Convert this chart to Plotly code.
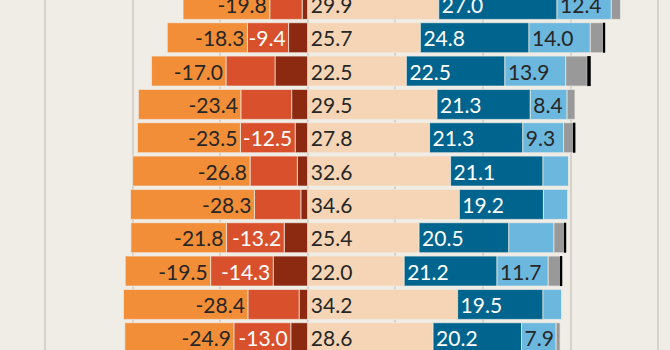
import plotly.graph_objects as go

# Row index (top row partially cropped in the reference)
rows = list(range(11))

# Left side (negative shares)
light_orange = [-19.8, -18.3, -17.0, -23.4, -23.5, -26.8, -28.3, -21.8, -19.5, -28.4, -24.9]
red = [-7.4, -9.4, -11.2, -11.6, -12.5, -10.8, -10.6, -13.2, -14.3, -11.7, -13.0]
dark_red = [-1.3, -4.4, -7.5, -3.7, -2.9, -2.4, -1.6, -5.4, -7.9, -2.0, -3.9]

# Right side (positive shares)
peach = [29.9, 25.7, 22.5, 29.5, 27.8, 32.6, 34.6, 25.4, 22.0, 34.2, 28.6]
dark_blue = [27.0, 24.8, 22.5, 21.3, 21.3, 21.1, 19.2, 20.5, 21.2, 19.5, 20.2]
light_blue = [12.4, 14.0, 13.9, 8.4, 9.3, 5.9, 5.6, 10.3, 11.7, 4.3, 7.9]
gray = [2.1, 3.0, 4.9, 1.8, 2.3, 0.0, 0.0, 2.4, 2.8, 0.0, 0.9]
black = [0.0, 0.4, 0.8, 0.0, 0.4, 0.0, 0.0, 0.4, 0.4, 0.0, 0.0]

# Which segments carry a printed label
red_labelled = [False, True, False, False, True, False, False, True, True, False, True]
light_blue_labelled = [True, True, True, True, True, False, False, False, True, False, True]

grid_ticks = [-60, -40, -20, 0, 20, 40, 60, 80]

BG = "#f0ede6"
FONT = "Lato"
DARK_TXT = "#262626"
FSIZE = 21


def labels(values, mask=None):
    out = []
    for i, v in enumerate(values):
        if mask is None or mask[i]:
            out.append(f"{v:.1f}")
        else:
            out.append("")
    return out


def seg(values, color, text=None, txtcolor=DARK_TXT, line=True):
    return go.Bar(
        y=rows,
        x=values,
        orientation="h",
        marker=dict(color=color,
                    line=dict(color="rgba(240,237,230,0.7)", width=1 if line else 0)),
        text=text,
        textposition="inside" if text is not None else "none",
        insidetextanchor="start",
        constraintext="none",
        textangle=0,
        textfont=dict(family=FONT, size=FSIZE, color=txtcolor),
        width=0.9,
        hoverinfo="skip",
        showlegend=False,
    )


fig = go.Figure()
# negative stack: innermost first
fig.add_trace(seg(dark_red, "#8b2a10"))
fig.add_trace(seg(red, "#d9512c", labels(red, red_labelled), "white"))
fig.add_trace(seg(light_orange, "#f28e38", labels(light_orange)))
# positive stack
fig.add_trace(seg(peach, "#f5d5b5", labels(peach)))
fig.add_trace(seg(dark_blue, "#00658e", labels(dark_blue), "white"))
fig.add_trace(seg(light_blue, "#6bb7dd", labels(light_blue, light_blue_labelled)))
fig.add_trace(seg(gray, "#999999"))
fig.add_trace(seg(black, "#000000", line=False))

fig.update_layout(
    width=670,
    height=350,
    margin=dict(l=0, r=0, t=0, b=0),
    paper_bgcolor=BG,
    plot_bgcolor=BG,
    barmode="relative",
    bargap=0.1,
    font=dict(family=FONT, size=FSIZE, color=DARK_TXT),
    xaxis=dict(range=[-70.3, 82.7], tickvals=grid_ticks, showticklabels=False,
               showgrid=True, gridcolor="#d6d2cb", gridwidth=1.5, zeroline=False,
               fixedrange=True),
    yaxis=dict(range=[10.368, -0.132], showticklabels=False, showgrid=False,
               zeroline=False, fixedrange=True),
    uniformtext=dict(mode=False),
)

fig.write_html("out.html")
